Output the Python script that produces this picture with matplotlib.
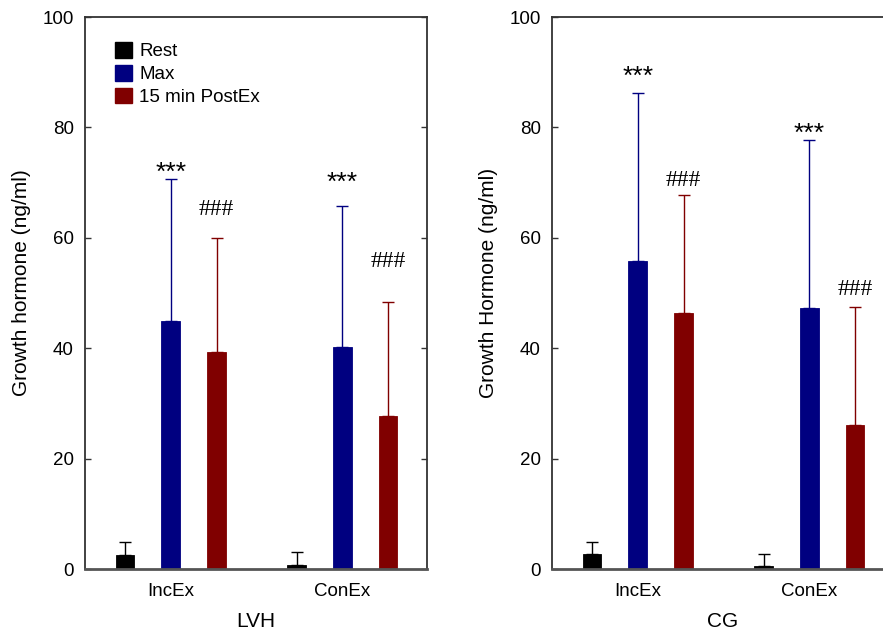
import matplotlib
matplotlib.use("Agg")
import matplotlib.pyplot as plt
import numpy as np
from matplotlib.patches import Patch

plt.rcParams['font.family'] = ['Liberation Sans', 'DejaVu Sans']

groups = ["IncEx", "ConEx"]
series = ["Rest", "Max", "15 min PostEx"]
colors = ["#000000", "#000080", "#800000"]

# LVH panel
lvh_means = [[2.5, 44.9, 39.3], [0.7, 40.2, 27.7]]
lvh_err = [[2.4, 25.7, 20.7], [2.4, 25.6, 20.7]]
lvh_star_y = [70.5, 68.7]
lvh_hash_y = [64.1, 54.7]

# CG panel
cg_means = [[2.7, 55.8, 46.4], [0.5, 47.3, 26.1]]
cg_err = [[2.2, 30.4, 21.4], [2.2, 30.4, 21.4]]
cg_star_y = [87.9, 77.6]
cg_hash_y = [69.4, 49.6]

yticks = [0, 20, 40, 60, 80, 100]

fig = plt.figure(figsize=(8.83, 6.35), dpi=100)
W, H = 883, 635
axw = 342 / W
axb = 1 - 569 / H
axh = (569 - 17) / H
ax1 = fig.add_axes([85 / W, axb, axw, axh])
ax2 = fig.add_axes([552 / W, axb, axw, axh])

group_pos = np.array([0.0, 3.75])
offsets = [-1, 0, 1]
bw = 0.41


def draw(ax, means, errs, star_y, hash_y, ylabel, xlabel, legend):
    for si in range(3):
        xs = group_pos + offsets[si]
        vals = [means[g][si] for g in range(2)]
        es = [errs[g][si] for g in range(2)]
        ax.bar(xs, vals, width=bw, color=colors[si], edgecolor=colors[si],
               linewidth=0.6, zorder=2)
        ax.errorbar(xs, vals, yerr=[np.zeros(2), es], fmt='none',
                    ecolor=colors[si], elinewidth=1.0, capsize=4.0,
                    capthick=1.0, zorder=1)
    for g in range(2):
        ax.text(group_pos[g], star_y[g], "***", ha='center', va='baseline',
                fontsize=19)
        ax.text(group_pos[g] + 1, hash_y[g], "###", ha='center', va='baseline',
                fontsize=17, family=['Liberation Serif', 'DejaVu Serif'])
    ax.set_xlim(-1.875, 5.6)
    ax.set_ylim(0, 100)
    ax.set_yticks(yticks)
    ax.set_xticks(group_pos)
    ax.set_xticklabels(groups)
    ax.tick_params(axis='both', direction='in', length=4, width=1,
                   labelsize=13.5, colors='#333333', labelcolor='black',
                   right=True)
    ax.tick_params(axis='y', pad=8)
    ax.tick_params(axis='x', pad=10)
    for sp in ax.spines.values():
        sp.set_color('#333333')
        sp.set_linewidth(1.3)
    ax.spines['bottom'].set_color('#555555')
    ax.spines['bottom'].set_linewidth(2.0)
    ax.set_ylabel(ylabel, fontsize=15)
    ax.yaxis.set_label_coords(-0.157, 0.518)
    ax.set_xlabel(xlabel, fontsize=15, labelpad=9)
    if legend:
        handles = [Patch(facecolor=c, edgecolor=c) for c in colors]
        ax.legend(handles, series, loc='upper left',
                  bbox_to_anchor=(30 / 342, 1 - 25 / 552), borderaxespad=0,
                  borderpad=0, frameon=False, fontsize=13.5,
                  handlelength=0.9, handleheight=0.9, handletextpad=0.4,
                  labelspacing=0.25)


draw(ax1, lvh_means, lvh_err, lvh_star_y, lvh_hash_y,
     "Growth hormone (ng/ml)", "LVH", True)
draw(ax2, cg_means, cg_err, cg_star_y, cg_hash_y,
     "Growth Hormone (ng/ml)", "CG", False)

fig.savefig("out.png", dpi=100)
